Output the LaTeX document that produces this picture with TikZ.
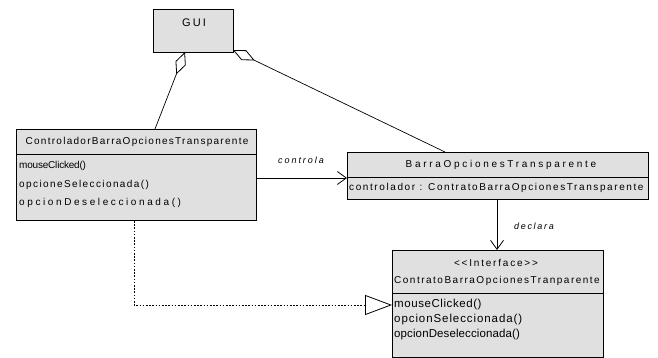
\documentclass[tikz,border=0pt]{standalone}
\usepackage{fontspec}
\setmainfont{Liberation Sans}
\usetikzlibrary{arrows.meta}
\definecolor{boxfill}{RGB}{224,224,224}
\newcommand{\ls}[2]{{\addfontfeature{LetterSpace=#1}#2}}
\begin{document}
\begin{tikzpicture}[x=1pt,y=-1pt,
  umlbox/.style={draw=black,line width=0.9pt,fill=boxfill,rectangle,inner sep=0pt,anchor=north west},
  txt/.style={inner sep=0pt,font=\fontsize{10}{12}\selectfont},
  ltxt/.style={txt,anchor=west},
  itxt/.style={ltxt,font=\fontsize{11.5}{13}\selectfont},
  lbl/.style={inner sep=0pt,font=\fontsize{9}{11}\selectfont\itshape},
  conn/.style={line width=0.7pt},
  aggr/.style={conn,-{Diamond[open,length=24pt,width=11pt,line width=0.8pt]}},
  nav/.style={conn,-{Straight Barb[length=9pt,width=13pt,line width=0.8pt]}},
  real/.style={conn,dash pattern=on 1.6pt off 1.6pt,-{Triangle[open,length=27pt,width=20pt,line width=0.8pt]}}]
\useasboundingbox (0,0) rectangle (658,358);
% GUI
\node[umlbox,minimum width=80pt,minimum height=43pt] (gui) at (153,9) {};
\node[txt,font=\fontsize{11}{12}\selectfont] (guit) at (194,23) {\ls{20}{GUI}};
% Controlador
\node[umlbox,minimum width=240pt,minimum height=91pt] (ctrl) at (16,129) {};
\draw[line width=0.9pt] (ctrl.west |- 0,154) coordinate (cs1) -- (ctrl.east |- 0,154) coordinate (cs2);
\node[txt] (ctrlt) at (137,142) {\ls{12.8}{ControladorBarraOpcionesTransparente}};
\node[ltxt] (cm1) at (19,166) {\ls{-2}{mouseClicked()}};
\node[ltxt] (cm2) at (19,185) {\ls{14}{opcioneSeleccionada()}};
\node[ltxt] (cm3) at (19,203) {\ls{26}{opcionDeseleccionada()}};
% Barra
\node[umlbox,minimum width=301pt,minimum height=47pt] (barra) at (347,152) {};
\draw[line width=0.9pt] (barra.west |- 0,177) coordinate (bs1) -- (barra.east |- 0,177) coordinate (bs2);
\node[txt] (barrat) at (501,165) {\ls{27}{BarraOpcionesTransparente}};
\node[ltxt] (ba1) at (349,188) {\ls{16}{controlador : ContratoBarraOpcionesTransparente}};
% Interface
\node[umlbox,minimum width=211pt,minimum height=107pt] (intf) at (392,250) {};
\draw[line width=0.9pt] (intf.west |- 0,293) coordinate (is1) -- (intf.east |- 0,293) coordinate (is2);
\node[txt] (intfs) at (496,263) {\ls{18}{<{}<Interface>{}>}};
\node[txt] (intft) at (497,281) {\ls{15}{ContratoBarraOpcionesTranparente}};
\node[itxt] (im1) at (394,305) {\ls{5}{mouseClicked()}};
\node[itxt] (im2) at (394,320) {\ls{8}{opcionSeleccionada()}};
\node[itxt] (im3) at (394,335) {\ls{1}{opcionDeseleccionada()}};
% connectors
\coordinate (g1) at (185,52);
\coordinate (c1) at (155,129);
\draw[aggr] (c1) -- (g1);
\coordinate (g2) at (233,50);
\coordinate (b1) at (445,152);
\draw[aggr] (b1) -- (g2);
\draw[nav] (ctrl.east |- 0,178) -- (barra.west |- 0,178);
\node[lbl] (lcontrola) at (301,160) {\ls{22}{controla}};
\draw[nav] (barra.south -| 497,0) -- (intf.north -| 497,0);
\node[lbl] (ldeclara) at (534,226) {\ls{19}{declara}};
\coordinate (d1) at (134,305);
\draw[real] (ctrl.south -| d1) -- (d1) -- (intf.west |- d1);
\end{tikzpicture}
\end{document}
